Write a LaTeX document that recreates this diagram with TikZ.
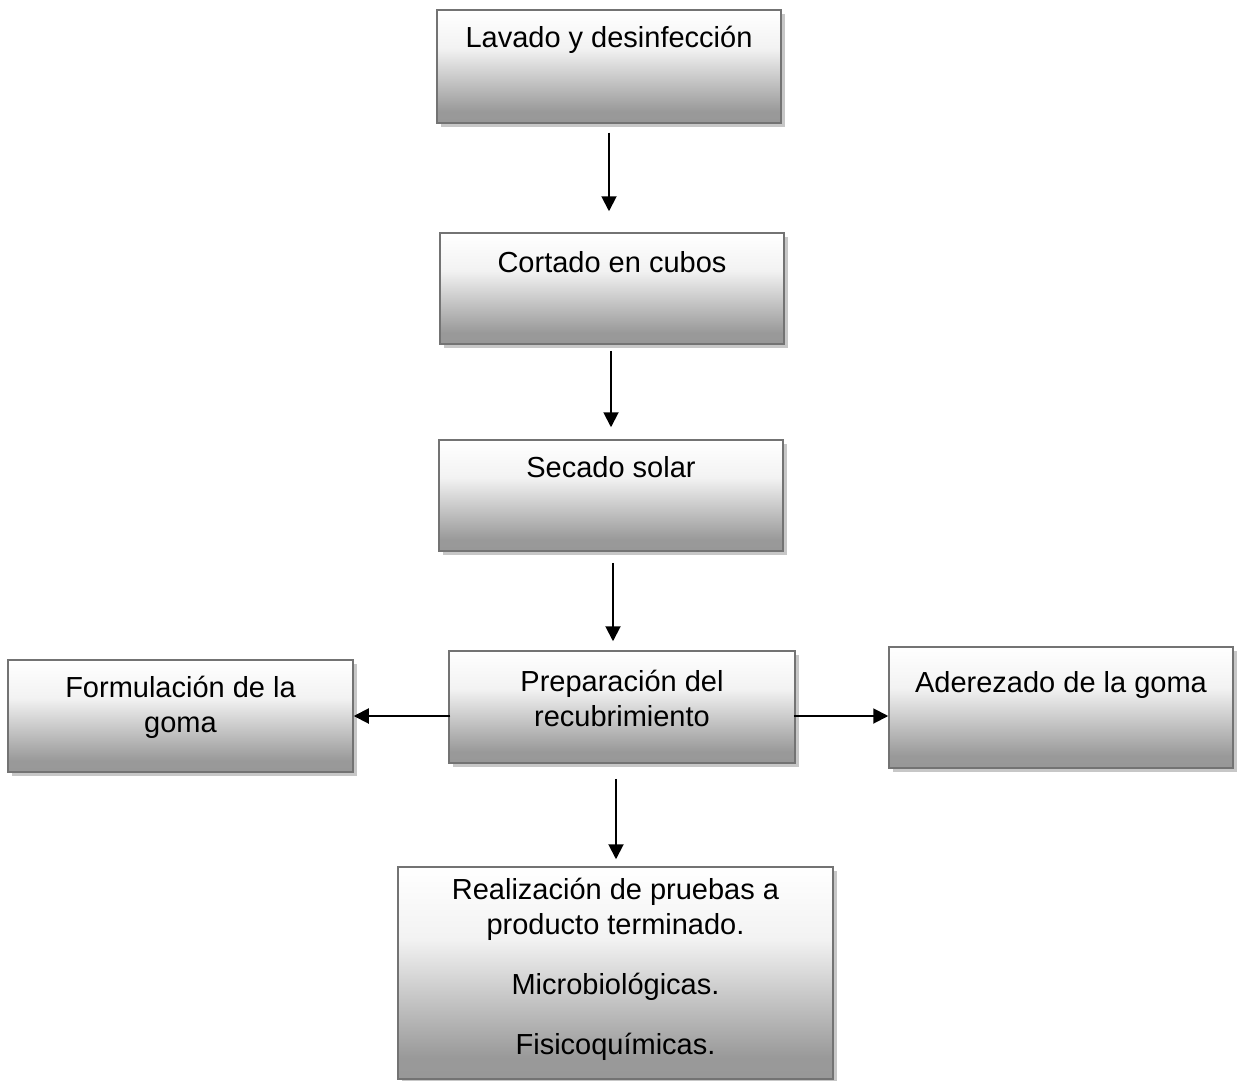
\documentclass[tikz,border=0pt]{standalone}
\usepackage{fontspec}
\setmainfont{Liberation Sans}
\usetikzlibrary{arrows.meta,shadows}
\pgfdeclareverticalshading{boxshade}{100bp}{color(0bp)=(black!42); color(30bp)=(black!40); color(58bp)=(black!5); color(75bp)=(white); color(100bp)=(white)}
\begin{document}
\begin{tikzpicture}[
  box/.style={rectangle, draw=black!55, line width=0.85pt, shading=boxshade,
    drop shadow={shadow xshift=0.08cm, shadow yshift=-0.08cm, fill=black!22, opacity=1},
    inner sep=0pt},
  txt/.style={font=\fontsize{16.5}{20}\selectfont, align=center, inner sep=0pt},
  arr/.style={line width=1.1pt, -{Triangle[length=0.3cm,width=0.3cm]}}
]
\useasboundingbox (0,0) rectangle (24.76,-21.62);
% boxes
\node[box, minimum width=6.88cm, minimum height=2.26cm] (b1) at (12.18,-1.33) {};
\node[box, minimum width=6.88cm, minimum height=2.22cm] (b2) at (12.24,-5.77) {};
\node[box, minimum width=6.88cm, minimum height=2.22cm] (b3) at (12.22,-9.91) {};
\node[box, minimum width=6.92cm, minimum height=2.24cm] (b4) at (12.44,-14.14) {};
\node[box, minimum width=6.90cm, minimum height=2.24cm] (b5) at (3.61,-14.32) {};
\node[box, minimum width=6.88cm, minimum height=2.42cm] (b6) at (21.22,-14.15) {};
\node[box, minimum width=8.70cm, minimum height=4.24cm] (b7) at (12.31,-19.46) {};
% texts
\node[txt] (t1) at (12.18,-0.80) {Lavado y desinfección};
\node[txt] (t2) at (12.24,-5.24) {Cortado en cubos};
\node[txt] (t3) at (12.22,-9.34) {Secado solar};
\node[txt] (t4) at (12.44,-13.97) {Preparación del\\recubrimiento};
\node[txt] (t5) at (3.61,-14.15) {Formulación de la\\goma};
\node[txt] (t6) at (21.22,-13.70) {Aderezado de la goma};
\node[txt, anchor=north] (t7) at (12.31,-17.55) {Realización de pruebas a\\producto terminado.\\[0.5cm]Microbiológicas.\\[0.5cm]Fisicoquímicas.};
% arrows
\draw[arr, shorten <=0.18cm, shorten >=0.42cm] (b1.south) -- (b1.south |- b2.north);
\draw[arr, shorten <=0.12cm, shorten >=0.24cm] ([xshift=-0.02cm]b2.south) -- ([xshift=-0.02cm]b2.south |- b3.north);
\draw[arr, shorten <=0.22cm, shorten >=0.18cm] ([xshift=0.04cm]b3.south) -- ([xshift=0.04cm]b3.south |- b4.north);
\draw[arr, shorten <=0.30cm, shorten >=0.14cm] ([xshift=-0.12cm]b4.south) -- ([xshift=-0.12cm]b4.south |- b7.north);
\draw[arr, shorten <=-0.04cm] (b4.west |- b5.east) -- (b5.east);
\draw[arr, shorten <=-0.04cm] (b4.east |- b5.east) -- (b6.west |- b5.east);
\end{tikzpicture}
\end{document}
